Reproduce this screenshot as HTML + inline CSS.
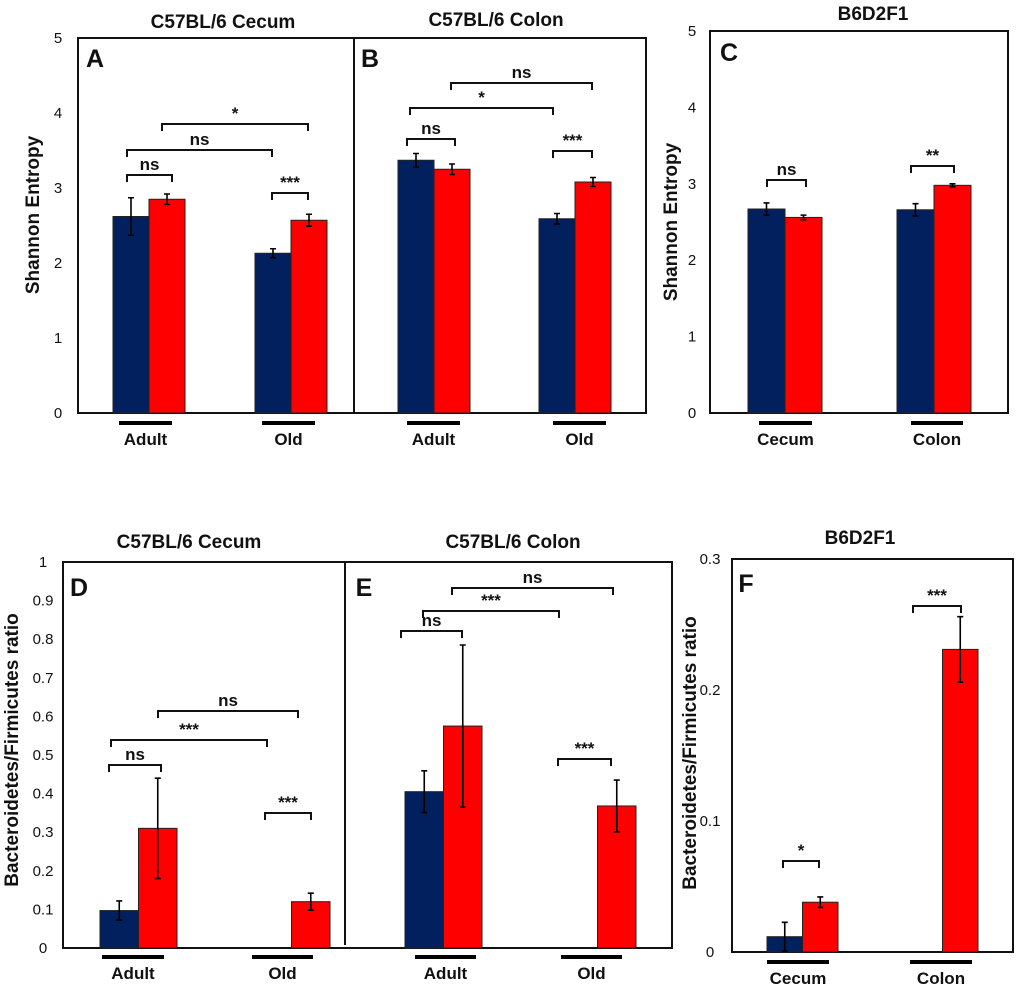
<!DOCTYPE html>
<html><head><meta charset="utf-8"><style>
html,body{margin:0;padding:0;background:#fff;}
svg{display:block;}
text{font-family:"Liberation Sans Narrow","Liberation Sans",sans-serif;fill:#111;}
.t{font-size:19px;font-weight:bold;}
.tk{font-size:15px;}
.yt{font-family:"Liberation Sans",sans-serif;font-size:19px;font-weight:bold;}
.lt{font-family:"Liberation Sans",sans-serif;font-size:25px;font-weight:bold;}
.sg{font-size:17px;font-weight:bold;}
.xl{font-size:17px;font-weight:bold;}
</style></head><body>
<svg id="fig" width="1020" height="990" viewBox="0 0 1020 990" xmlns="http://www.w3.org/2000/svg"></svg>
<script>
// Panel A (Shannon, C57BL/6 Cecum): Adult, Old
const aGroups = ["Adult","Old"];
const aBlue = [2.62, 2.13];
const aBlueErr = [0.25, 0.06];
const aRed = [2.85, 2.57];
const aRedErr = [0.07, 0.08];
// Panel B (Shannon, C57BL/6 Colon)
const bGroups = ["Adult","Old"];
const bBlue = [3.37, 2.59];
const bBlueErr = [0.09, 0.07];
const bRed = [3.25, 3.08];
const bRedErr = [0.07, 0.06];
// Panel C (Shannon, B6D2F1)
const cGroups = ["Cecum","Colon"];
const cBlue = [2.67, 2.66];
const cBlueErr = [0.08, 0.08];
const cRed = [2.56, 2.98];
const cRedErr = [0.03, 0.02];
// Panel D (B/F ratio, C57BL/6 Cecum)
const dGroups = ["Adult","Old"];
const dBlue = [0.097, 0];
const dBlueErr = [0.025, 0];
const dRed = [0.31, 0.12];
const dRedErr = [0.13, 0.022];
// Panel E (B/F ratio, C57BL/6 Colon)
const eGroups = ["Adult","Old"];
const eBlue = [0.405, 0];
const eBlueErr = [0.054, 0];
const eRed = [0.575, 0.368];
const eRedErr = [0.21, 0.067];
// Panel F (B/F ratio, B6D2F1)
const fGroups = ["Cecum","Colon"];
const fBlue = [0.0117, 0];
const fBlueErr = [0.011, 0];
const fRed = [0.038, 0.231];
const fRedErr = [0.004, 0.025];
// Tick labels
const shannonTicks = ["0","1","2","3","4","5"];
const ratioTicksD = ["0","0.1","0.2","0.3","0.4","0.5","0.6","0.7","0.8","0.9","1"];
const ratioTicksF = ["0","0.1","0.2","0.3"];
// Significance labels
const aSig = ["ns","ns","*","***"];
const bSig = ["ns","*","ns","***"];
const cSig = ["ns","**"];
const dSig = ["ns","***","ns","***"];
const eSig = ["ns","***","ns","***"];
const fSig = ["*","***"];

const NS="http://www.w3.org/2000/svg";
const svg=document.getElementById('fig');
function mk(tag,attrs,parent,txt){const e=document.createElementNS(NS,tag);for(const k in attrs)e.setAttribute(k,attrs[k]);if(txt!==undefined)e.textContent=txt;(parent||svg).appendChild(e);return e;}

function panel(o){
  const g=mk('g',{});
  
  
  const ys=v=>o.y0-(v/o.max)*(o.y0-o.y1);
  // bars
  for(let i=0;i<o.groups.length;i++){
    const bx=o.barX[i];
    const series=[[o.blue,o.blueErr,'#03205e','blue'],[o.red,o.redErr,'#ff0000','red']];
    series.forEach((s,j)=>{
      const v=s[0][i],e=s[1][i];
      const x=bx+j*o.bw;
      const top=ys(v);
      const r=mk('rect',{x:x,y:top,width:o.bw,height:Math.max(0,o.y0-top),fill:s[2],stroke:'#222','stroke-width':1},g);
      
      
      if(e>0){
        const cx=x+o.bw/2,t=ys(v+e),b=Math.min(o.y0,ys(v-e));
        const eb=mk('path',{d:`M${cx} ${t}V${b}M${cx-3} ${t}H${cx+3}M${cx-3} ${b}H${cx+3}`,stroke:'#000','stroke-width':1.6,fill:'none'},g);
        
        
      }
    });
    const ul=mk('rect',{x:o.ul[i][0],y:o.ulY-2,width:o.ul[i][1]-o.ul[i][0],height:4,fill:'#000'},g);
    
    
    const xl=mk('text',{x:(o.ul[i][0]+o.ul[i][1])/2,y:o.ulY+22,'text-anchor':'middle',class:'xl'},g,o.groups[i]);
    
    
  }
  // brackets
  o.br.forEach((b,k)=>{
    const p=mk('path',{d:`M${b[0]} ${b[2]+7}V${b[2]}H${b[1]}V${b[2]+7}`,stroke:'#111','stroke-width':2,fill:'none'},g);
    
    
    const t=mk('text',{x:(b[0]+b[1])/2,y:b[2]-5,'text-anchor':'middle',class:'sg'},g,o.sig[k]);
    
    
  });
}
function axisTicks(ticks,max,y0,y1,x,name){
  ticks.forEach(t=>{
    const y=y0-(parseFloat(t)/max)*(y0-y1);
    const e=mk('text',{x:x,y:y+5,'text-anchor':'middle',class:'tk'},svg,t);
    
    
  });
}
function box(x1,y1,x2,y2,name){const r=mk('rect',{x:x1,y:y1,width:x2-x1,height:y2-y1,fill:'none',stroke:'#111','stroke-width':2});}
function txt(x,y,s,cls,name,rot){const a={x:x,y:y,'text-anchor':'middle',class:cls};if(rot)a.transform=`rotate(-90 ${x} ${y})`;const e=mk('text',a,svg,s);}

// Top row
box(78,38,646,413,'plot-frame-ab');
const dv=mk('line',{x1:354,y1:38,x2:354,y2:413,stroke:'#111','stroke-width':2});


box(710,31,1008,413,'plot-frame-c');
axisTicks(shannonTicks,5,413,38,58,'y-tick');
axisTicks(shannonTicks,5,413,31,692,'y-tick');
txt(39,215,'Shannon Entropy','yt','y-axis-title-ab',true);
txt(677,222,'Shannon Entropy','yt','y-axis-title-c',true);
txt(223,28,'C57BL/6 Cecum','t','title-a');
txt(496,26,'C57BL/6 Colon','t','title-b');
txt(873,20,'B6D2F1','t','title-c');
txt(95,67,'A','lt','panel-letter-a');
txt(370,67,'B','lt','panel-letter-b');
txt(729,61,'C','lt','panel-letter-c');

panel({name:'panel-a',groups:aGroups,blue:aBlue,blueErr:aBlueErr,red:aRed,redErr:aRedErr,max:5,y0:413,y1:38,
  barX:[113,255],bw:36,ul:[[119,172],[262,315]],ulY:423,sig:aSig,
  br:[[127,172,175],[127,272,150],[162,308,124],[272,308,193]]});
panel({name:'panel-b',groups:bGroups,blue:bBlue,blueErr:bBlueErr,red:bRed,redErr:bRedErr,max:5,y0:413,y1:38,
  barX:[398,539],bw:36,ul:[[407,460],[553,606]],ulY:423,sig:bSig,
  br:[[407,455,139],[410,553,108],[451,592,83],[553,592,151]]});
panel({name:'panel-c',groups:cGroups,blue:cBlue,blueErr:cBlueErr,red:cRed,redErr:cRedErr,max:5,y0:413,y1:31,
  barX:[748,897],bw:37,ul:[[759,812],[911,963]],ulY:423,sig:cSig,
  br:[[767,806,180],[911,954,166]]});

// Bottom row
box(63,562,672,948,'plot-frame-de');
const dv2=mk('line',{x1:345,y1:562,x2:345,y2:945,stroke:'#111','stroke-width':2});


box(732,559,1013,952,'plot-frame-f');
axisTicks(ratioTicksD,1,948,562,43,'y-tick');
axisTicks(ratioTicksF,0.3,952,559,710,'y-tick');
txt(18,750,'Bacteroidetes/Firmicutes ratio','yt','y-axis-title-de',true);
txt(696,753,'Bacteroidetes/Firmicutes ratio','yt','y-axis-title-f',true);
txt(189,548,'C57BL/6 Cecum','t','title-d');
txt(513,548,'C57BL/6 Colon','t','title-e');
txt(860,544,'B6D2F1','t','title-f');
txt(79,596,'D','lt','panel-letter-d');
txt(364,596,'E','lt','panel-letter-e');
txt(746,592,'F','lt','panel-letter-f');

panel({name:'panel-d',groups:dGroups,blue:dBlue,blueErr:dBlueErr,red:dRed,redErr:dRedErr,max:1,y0:948,y1:562,
  barX:[100,253],bw:38.5,ul:[[102,164],[252,313]],ulY:957,sig:dSig,
  br:[[109,161,765],[111,267,740],[158,298,711],[265,311,813]]});
panel({name:'panel-e',groups:eGroups,blue:eBlue,blueErr:eBlueErr,red:eRed,redErr:eRedErr,max:1,y0:948,y1:562,
  barX:[405,559],bw:38.5,ul:[[415,476],[561,622]],ulY:957,sig:eSig,
  br:[[401,462,631],[423,559,611],[452,613,588],[558,611,759]]});
panel({name:'panel-f',groups:fGroups,blue:fBlue,blueErr:fBlueErr,red:fRed,redErr:fRedErr,max:0.3,y0:952,y1:559,
  barX:[767,907],bw:35.5,ul:[[767,829],[910,972]],ulY:962,sig:fSig,
  br:[[783,819,861],[913,961,606]]});
</script>
</body></html>
